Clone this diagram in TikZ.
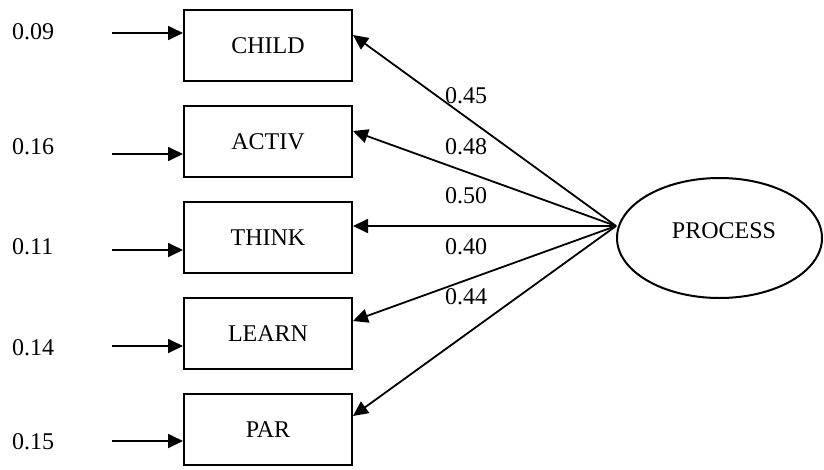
\documentclass[tikz,border=0pt]{standalone}
\usepackage{fontspec}
\setmainfont{Liberation Serif}
\usetikzlibrary{arrows.meta,shapes.geometric}

\begin{document}
\begin{tikzpicture}[x=1pt,y=-1pt,
  every node/.style={font=\fontsize{24}{28}\selectfont, inner sep=0pt},
  varbox/.style={draw, line width=2pt, rectangle, minimum width=168pt, minimum height=71pt},
  latent/.style={draw, line width=2pt, ellipse, minimum width=205pt, minimum height=120pt},
  errlabel/.style={anchor=west},
  pathlabel/.style={},
  arr/.style={line width=1.8pt, -{Triangle[length=15pt,width=14pt]}}
]
\useasboundingbox (0,0) rectangle (824,469);

% observed variables
\node[varbox] (child) at (268,45.5)  {CHILD};
\node[varbox] (activ) at (268,141.5) {ACTIV};
\node[varbox] (think) at (268,237.5) {THINK};
\node[varbox] (learn) at (268,333.5) {LEARN};
\node[varbox] (par)   at (268,429.5) {PAR};

% latent factor
\node[latent] (proc) at (719.5,238) {};
\node (proctext) at (724,231) {PROCESS};
\coordinate (src) at ([yshift=12pt]proc.west);

% error variances
\node[errlabel] (e1) at (12,32)  {0.09};
\node[errlabel] (e2) at (12,147) {0.16};
\node[errlabel] (e3) at (12,247) {0.11};
\node[errlabel] (e4) at (12,348) {0.14};
\node[errlabel] (e5) at (12,442) {0.15};

\coordinate (s1) at (112,33);
\coordinate (s2) at (112,154);
\coordinate (s3) at (112,250);
\coordinate (s4) at (112,346);
\coordinate (s5) at (112,441);

\draw[arr] (s1) -- (s1 -| child.west);
\draw[arr] (s2) -- (s2 -| activ.west);
\draw[arr] (s3) -- (s3 -| think.west);
\draw[arr] (s4) -- (s4 -| learn.west);
\draw[arr] (s5) -- (s5 -| par.west);

% loadings
\draw[arr] (src) -- ([yshift=10.5pt]child.east);
\draw[arr] (src) -- ([yshift=10.5pt]activ.east);
\draw[arr] (src) -- ([yshift=11.5pt]think.east);
\draw[arr] (src) -- ([yshift=12.5pt]learn.east);
\draw[arr] (src) -- ([yshift=13.5pt]par.east);

\node[pathlabel] (l1) at (466,96)  {0.45};
\node[pathlabel] (l2) at (466,147) {0.48};
\node[pathlabel] (l3) at (466,196) {0.50};
\node[pathlabel] (l4) at (466,247) {0.40};
\node[pathlabel] (l5) at (466,297) {0.44};
\end{tikzpicture}
\end{document}
